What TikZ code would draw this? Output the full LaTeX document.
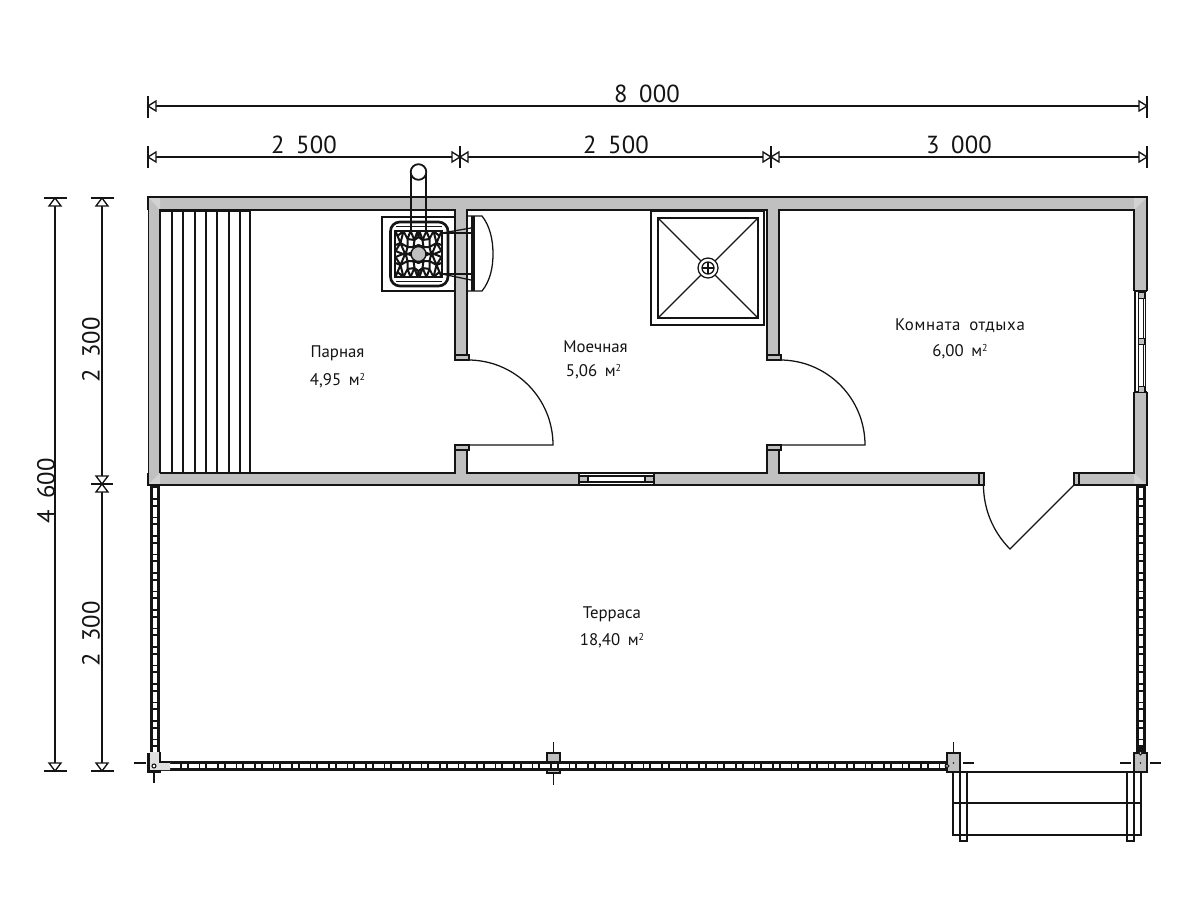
\documentclass[tikz,border=0pt]{standalone}
\usepackage{fontspec}
\setmainfont{PT Sans}
\newfontfamily\roomfam[WordSpace=1.7]{PT Sans}
\newfontfamily\widefam[WordSpace=1.7,LetterSpace=4]{PT Sans}
\newfontfamily\dimfam[WordSpace=1.7,LetterSpace=1]{PT Sans}
\newcommand{\roomlabel}[1]{{\roomfam\fontsize{12.6}{14}\selectfont #1}}
\newcommand{\widelabel}[1]{{\widefam\fontsize{12.6}{14}\selectfont #1}}
\newcommand{\dimlabel}[1]{{\dimfam\fontsize{18.5}{20}\selectfont #1}}
\newcommand{\sq}{\raisebox{0.6ex}{\fontsize{7.5}{8}\selectfont 2}}
\definecolor{wallgray}{HTML}{C0C0C0}
\definecolor{cornergray}{HTML}{D2D2D2}
\definecolor{ink}{HTML}{141414}
\tikzset{
  ln/.style={draw=ink,line width=1.35pt},
  benchln/.style={draw=ink,line width=1.8pt},
  tn/.style={draw=ink,line width=0.95pt},
  wall/.style={fill=wallgray,draw=none},
  jamb/.style={fill=wallgray,draw=ink,line width=1.1pt},
  dimtip/.style={draw=ink,line width=1pt,fill=white},
  roomtext/.style={inner sep=0pt,text=ink,align=center},
  dimtext/.style={inner sep=0pt,text=ink}
}
\begin{document}
\begin{tikzpicture}[x=0.75pt,y=-0.75pt,line cap=butt]
\useasboundingbox (0,0) rectangle (1200,900);
\fill[white] (0,0) rectangle (1200,900);

% ---------- dimension lines
\newcommand{\tipR}[2]{\path[dimtip] (#1,#2) -- ++(8,-5) -- ++(0,10) -- cycle;}
\newcommand{\tipL}[2]{\path[dimtip] (#1,#2) -- ++(-8,-5) -- ++(0,10) -- cycle;}
\newcommand{\tipD}[2]{\path[dimtip] (#1,#2) -- ++(-6,8) -- ++(12,0) -- cycle;}
\newcommand{\tipU}[2]{\path[dimtip] (#1,#2) -- ++(-6,-8) -- ++(12,0) -- cycle;}
\draw[tn] (148,106) -- (1147,106);
\draw[tn] (148,157) -- (1147,157);
\draw[tn] (148,96) -- (148,118);
\draw[tn] (1147,96) -- (1147,118);
\tipR{148}{106}\tipL{1147}{106}
\foreach \x in {148,460,771,1147}{\draw[tn] (\x,146) -- (\x,168);}
\tipR{148}{157}\tipL{460}{157}\tipR{460}{157}\tipL{771}{157}\tipR{771}{157}\tipL{1147}{157}
\draw[tn] (55,198) -- (55,771);
\draw[tn] (102,198) -- (102,771);
\foreach \x in {55,102}{
  \draw[tn] (\x-11,198) -- (\x+12,198);
  \draw[tn] (\x-11,771) -- (\x+12,771);
  \tipD{\x}{198}\tipU{\x}{771}
}
\draw[tn] (91,484) -- (113,484);
\tipU{102}{484}\tipD{102}{484}

\node[dimtext] (d8000) at (647,94) {\dimlabel{8 000}};
\node[dimtext] (d2500a) at (304,145) {\dimlabel{2 500}};
\node[dimtext] (d2500b) at (616,145) {\dimlabel{2 500}};
\node[dimtext] (d3000) at (959,145) {\dimlabel{3 000}};
\node[dimtext,rotate=90] (d4600) at (46,491) {\dimlabel{4 600}};
\node[dimtext,rotate=90] (d2300a) at (91,350) {\dimlabel{2 300}};
\node[dimtext,rotate=90] (d2300b) at (91,634) {\dimlabel{2 300}};

% ---------- walls
\fill[wall] (148,197) rectangle (1147,210);
\fill[wall] (148,473) rectangle (979,485);
\fill[wall] (1079,473) rectangle (1147,485);
\fill[wall] (148,197) rectangle (160,485);
\fill[wall] (1134,197) rectangle (1147,291);
\fill[wall] (1134,392) rectangle (1147,485);
\fill[wall] (455,210) rectangle (467,355);
\fill[wall] (455,450) rectangle (467,473);
\fill[wall] (767,210) rectangle (779,355);
\fill[wall] (767,450) rectangle (779,473);
% lighter mitres in the corners
\fill[cornergray] (149,198) -- (160,198) -- (160,210) -- cycle;
\fill[cornergray] (1146,198) -- (1134,198) -- (1134,210) -- cycle;
\fill[cornergray] (149,484) -- (160,484) -- (160,473) -- cycle;
\fill[cornergray] (1146,484) -- (1134,484) -- (1134,473) -- cycle;
% outer outline
\draw[ln] (148,197) -- (1147,197);
\draw[tn] (1147,197) -- (1147,291);
\draw[tn] (1147,392) -- (1147,485);
\draw[ln] (1147,485) -- (1079,485);
\draw[ln] (979,485) -- (148,485);
\draw[draw=ink,line width=0.5pt] (148,485) -- (148,197);
% inner outlines
\draw[ln] (160,473) -- (160,210) -- (455,210) -- (455,355);
\draw[ln] (467,355) -- (467,210) -- (767,210) -- (767,355);
\draw[ln] (779,355) -- (779,210) -- (1134,210) -- (1134,291);
\draw[ln] (1134,392) -- (1134,473) -- (1079,473);
\draw[ln] (979,473) -- (779,473) -- (779,450);
\draw[ln] (767,450) -- (767,473) -- (467,473) -- (467,450);
\draw[ln] (455,450) -- (455,473) -- (160,473);
% thick corners
\draw[draw=ink,line width=2.2pt] (148,210) -- (148,197) -- (160,197);
\draw[draw=ink,line width=2.2pt] (1134,197) -- (1147,197) -- (1147,210);
\draw[draw=ink,line width=2.2pt] (148,473) -- (148,485) -- (160,485);
\draw[draw=ink,line width=2.2pt] (1134,485) -- (1147,485) -- (1147,473);

% ---------- bench
\foreach \x in {172,183,195,206,217,229,240,250}{\draw[benchln] (\x,210) -- (\x,473);}
\draw[benchln] (160,211) -- (250,211);

% ---------- door jambs
\draw[jamb] (455,355) rectangle (469,360);
\draw[jamb] (455,445) rectangle (469,450);
\draw[jamb] (767,355) rectangle (781,360);
\draw[jamb] (767,445) rectangle (781,450);
\draw[jamb] (979,473) rectangle (984,485);
\draw[jamb] (1074,473) rectangle (1079,485);
% door leaves
\draw[tn] (469,445) -- (553,445) arc[start angle=0,end angle=-90,radius=85];
\draw[tn] (781,445) -- (865,445) arc[start angle=0,end angle=-90,radius=85];
\draw[tn] (1074,485) -- (1010,549) arc[start angle=135,end angle=180,radius=90.5];

% ---------- south window
\fill[white] (579,473) rectangle (654,485);
\draw[ln] (579,473) rectangle (654,485);
\fill[wall] (580,476) rectangle (588,482);
\fill[wall] (645,476) rectangle (653,482);
\draw[tn] (579,476) -- (654,476);
\draw[tn] (579,482) -- (654,482);
\draw[tn] (588,476) -- (588,482);
\draw[tn] (645,476) -- (645,482);

% ---------- east window
\fill[white] (1134,291) rectangle (1147.5,392);
\draw[tn] (1135,291) -- (1135,392);
\draw[tn] (1145.5,291) -- (1145.5,392);
\draw[tn] (1134,291) -- (1147,291);
\draw[tn] (1134,392) -- (1147,392);
\draw[tn] (1138.5,296) -- (1138.5,387);
\draw[ln] (1143.5,296) -- (1143.5,387);
\foreach \y in {292,338,386}{\path[fill=wallgray,draw=ink,line width=0.6pt] (1138,\y) rectangle (1144,\y+6.5);}

% ---------- shower
\draw[ln] (651,211) rectangle (764,325);
\draw[ln] (658,218) rectangle (758,318);
\draw[tn] (658,218) -- (701,261);
\draw[tn] (758,218) -- (715,261);
\draw[tn] (658,318) -- (701,275);
\draw[tn] (758,318) -- (715,275);
\draw[tn] (708,268) circle[radius=10];
\draw[tn] (708,268) circle[radius=6];
\draw[tn] (702,268) -- (714,268);
\draw[tn] (708,262) -- (708,274);

% ---------- stove and chimney
\draw[tn] (402,197) -- (440,197);
\draw[tn] (402,210) -- (440,210);
\draw[tn] (455,217) -- (382,217) -- (382,291) -- (455,291);
\draw[ln] (411,172) -- (411,232);
\draw[ln] (426,172) -- (426,232);
\path[draw=ink,line width=1.35pt,fill=white] (418.5,172) circle[radius=7.8];
\draw[draw=ink,line width=2pt,rounded corners=7pt] (390.5,222) rectangle (448,286);
\draw[ln] (396,226.5) -- (442,226.5);
\draw[ln] (396,281.5) -- (442,281.5);
\draw[ln] (395,231) rectangle (442,277);
\begin{scope}[shift={(418.5,254)}]
\foreach \sx/\sy in {1/1,-1/1,1/-1,-1/-1}{
\begin{scope}[xscale=\sx,yscale=\sy]
  \draw[draw=ink,line width=1.5pt,line cap=round,line join=round]
    (6,2) -- (13,-1) -- (23,3)  (13,-1) -- (11,7) -- (5,7)
    (11,7) -- (18,11) -- (23,9)  (18,11) -- (15,23)
    (5,7) -- (4,14) -- (11,15) -- (11,7)  (4,14) -- (1,23)
    (11,15) -- (8,23)  (18,11) -- (21,18) -- (23,23)
    (0,9) -- (5,7) (4,14) -- (8,23) (11,15) -- (15,23)
    (13,-1) -- (18,11) (1,23) -- (0,17) -- (4,14)
    (21,18) -- (15,23) (23,3) -- (18,11);
\end{scope}
}
\end{scope}
\path[fill=wallgray,draw=ink,line width=1.1pt] (418.5,254) circle[radius=7.5];
% stove door
\draw[tn] (442,233) -- (471,233);
\draw[tn] (442,233) -- (471,228);
\draw[tn] (442,274) -- (471,274);
\draw[tn] (442,274) -- (471,280);
\fill[ink] (471,216) rectangle (475,291);
\draw[tn] (467,216) -- (482,216) .. controls (490,226) and (493,240) .. (493,254) .. controls (493,268) and (490,281) .. (482,291) -- (467,291);

% ---------- terrace rails
\fill[ink] (149.5,485) rectangle (159.5,756);
\foreach \i in {0,...,14}{
  \fill[white] (152.5,{488+18.5*\i}) rectangle (156.5,{498+18.5*\i});
  \fill[white] (152.5,{499.8+18.5*\i}) rectangle (156.5,{504.7+18.5*\i});
}
\fill[ink] (1135.5,485) rectangle (1145.5,753);
\foreach \i in {0,...,13}{
  \fill[white] (1138.5,{488+18.5*\i}) rectangle (1142.5,{498+18.5*\i});
  \fill[white] (1138.5,{499.8+18.5*\i}) rectangle (1142.5,{504.7+18.5*\i});
}
\fill[ink] (160,761) rectangle (947,771);
\foreach \i in {0,...,42}{
  \fill[white] ({170+18.5*\i},763.8) rectangle ({180+18.5*\i},768.2);
  \fill[white] ({181.8+18.5*\i},763.8) rectangle ({186.7+18.5*\i},768.2);
}
% south-west corner
\path[fill=wallgray!50!white] (150,752) -- (160,752) -- (160,762) -- (170,762) -- (170,770) -- (150,770) -- cycle;
\draw[draw=ink,line width=1.1pt] (160,752) -- (160,762) -- (170,762);
\draw[draw=ink,line width=2.4pt] (148.5,753) -- (148.5,771.5) -- (161,771.5);
\draw[draw=ink,line width=0.8pt,fill=white] (154,766) circle[radius=2];
\draw[tn] (134,763) -- (146,763);
\draw[tn] (154,772) -- (154,783);

% centre post
\path[fill=wallgray,draw=ink,line width=1pt] (547,753) rectangle (560,762);
\path[fill=wallgray,draw=ink,line width=1pt] (547,770) rectangle (560,773);
\draw[tn] (553.5,742) -- (553.5,753);
\draw[tn] (553.5,773) -- (553.5,785);

% ---------- porch steps
\draw[tn] (953,772) -- (953,835) -- (1141,835) -- (1141,772);
\draw[tn] (953,803) -- (1141,803);
\draw[tn,fill=white] (960,772) -- (960,841) -- (967,841) -- (967,772);
\draw[tn,fill=white] (1127,772) -- (1127,841) -- (1134,841) -- (1134,772);
\draw[tn] (953,835) -- (1141,835);
\draw[tn] (953,803) -- (1141,803);
\draw[tn] (953,772) -- (1141,772);
% posts
\path[fill=wallgray,draw=ink,line width=1.1pt] (947,753) rectangle (960,772);
\path[fill=wallgray,draw=ink,line width=1.1pt] (1134,753) rectangle (1147,772);
\fill[ink] (953.5,763) circle[radius=0.9];
\fill[ink] (1140.5,763) circle[radius=0.9];
\draw[draw=ink,line width=0.8pt,fill=white] (947,766) circle[radius=1.8];
\draw[draw=ink,line width=0.8pt,fill=white] (1140.5,753) circle[radius=1.8];
\draw[tn] (953.5,742) -- (953.5,753);
\draw[tn] (963,763) -- (974,763);
\draw[tn] (1120,763) -- (1131,763);
\draw[tn] (1150,763) -- (1161,763);

% ---------- room labels
\node[roomtext] (r1a) at (337.5,353) {\roomlabel{Парная}};
\node[roomtext] (r1b) at (337.5,381) {\roomlabel{4,95 м\sq}};
\node[roomtext] (r2a) at (595.5,347) {\roomlabel{Моечная}};
\node[roomtext] (r2b) at (593.5,372) {\roomlabel{5,06 м\sq}};
\node[roomtext] (r3a) at (960,326) {\widelabel{Комната отдыха}};
\node[roomtext] (r3b) at (960,352) {\roomlabel{6,00 м\sq}};
\node[roomtext] (r4a) at (612,614) {\roomlabel{Терраса}};
\node[roomtext] (r4b) at (612,641) {\roomlabel{18,40 м\sq}};
\end{tikzpicture}
\end{document}
